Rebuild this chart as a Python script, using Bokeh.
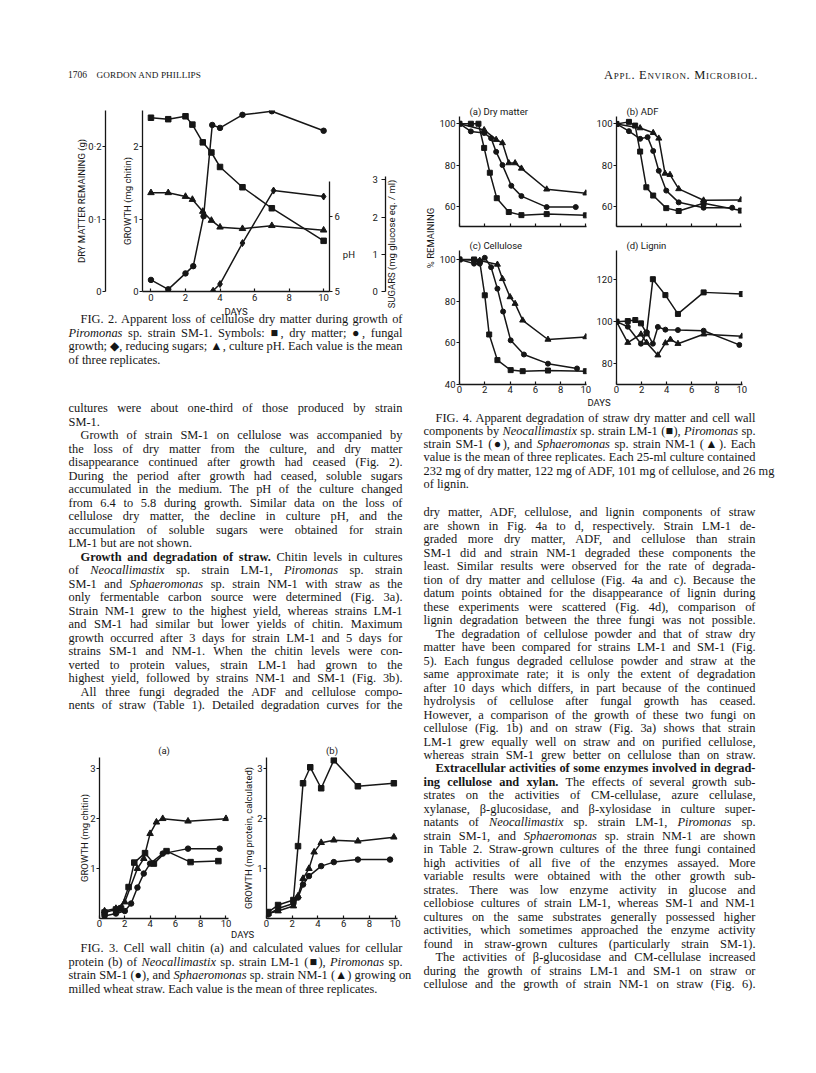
from bokeh.plotting import figure
from bokeh.models import (Range1d, LinearAxis, FixedTicker, Div, Spacer,
                          CustomLabelingPolicy)
from bokeh.layouts import row, column
from bokeh.embed import file_html
from bokeh.resources import INLINE

INK = "#161616"
FONT = "Roboto"
SERIF = "Liberation Serif"
AX_FS = "9.5px"
BODY_FS = 12.4
LH = 13.5
NB = "\u00a0"

# ---------------- data: Fig. 2 ----------------
f2_dm_days = [0, 1, 2, 2.4, 3, 3.5, 4, 5.3, 7, 10]
f2_dry_matter = [0.24, 0.238, 0.242, 0.2305, 0.206, 0.192, 0.172, 0.144, 0.115, 0.07]
f2_gr_days = [0, 1, 2, 2.45, 3.05, 3.55, 4, 5.3, 7, 10]
f2_growth = [0.16, 0.03, 0.25, 0.35, 1.04, 2.3, 2.26, 2.44, 2.49, 2.22]
f2_ph_days = [0, 1, 2, 2.4, 3, 3.5, 4, 5.3, 7, 10]
f2_ph = [6.32, 6.32, 6.27, 6.23, 6.07, 5.95, 5.86, 5.84, 5.88, 5.82]
f2_sug_days = [3.6, 4.0, 5.3, 7.1, 10]
f2_sugars = [0.02, 0.2, 1.3, 2.71, 2.55]
f2_x_ticks = [0, 2, 4, 6, 8, 10]
f2_sug_ticks = [0, 1, 2, 3]

# ---------------- data: Fig. 3 ----------------
f3a_lm_days = [0.4, 1.3, 1.7, 2.3, 2.75, 3.6, 4.3, 5.3, 7.2, 9.4]
f3a_lm = [0.12, 0.18, 0.2, 0.63, 1.12, 1.31, 1.1, 1.35, 1.13, 1.15]
f3a_sm_days = [0.4, 1.3, 2.0, 2.5, 3.0, 3.5, 4.0, 5.0, 7.0, 9.5]
f3a_sm = [0.05, 0.1, 0.15, 0.3, 0.62, 0.9, 1.1, 1.3, 1.4, 1.4]
f3a_nm_days = [0.4, 1.3, 2.0, 3.0, 3.5, 4.0, 4.5, 5.0, 7.0, 10.0]
f3a_nm = [0.15, 0.2, 0.33, 1.0, 1.2, 1.7, 1.93, 2.0, 1.95, 2.0]

f3b_lm_days = [0.13, 0.9, 2.09, 2.45, 2.84, 3.4, 4.25, 5.23, 7.1, 9.9]
f3b_lm = [0.13, 0.27, 0.37, 1.45, 2.71, 3.03, 2.61, 3.17, 2.65, 2.71]
f3b_sm_days = [0.13, 0.9, 2.09, 2.45, 2.84, 3.3, 4.25, 5.23, 7.1, 9.6]
f3b_sm = [0.08, 0.2, 0.3, 0.42, 0.68, 0.85, 1.05, 1.13, 1.18, 1.18]
f3b_nm_days = [0.13, 0.9, 2.09, 2.45, 2.84, 3.3, 3.7, 4.25, 5.23, 7.1, 9.9]
f3b_nm = [0.1, 0.15, 0.25, 0.45, 0.8, 1.0, 1.33, 1.52, 1.57, 1.55, 1.63]
f3_y_ticks = [1, 2, 3]

# ---------------- data: Fig. 4 ----------------
f4a_lm_days = [0, 0.9, 1.5, 1.95, 2.4, 2.95, 3.9, 4.9, 6.9, 10]
f4a_lm = [100, 100, 100, 88.3, 76.3, 64, 57.3, 55.8, 56.3, 55.7]
f4a_sm_days = [0, 0.9, 1.95, 2.5, 2.9, 3.4, 4.1, 4.9, 6.9, 9.2]
f4a_sm = [100, 96.3, 95.5, 93, 86.4, 80, 70, 65, 59.7, 59.7]
f4a_nm_days = [0, 1.95, 2.9, 3.4, 3.9, 4.4, 4.9, 6.9, 10]
f4a_nm = [100, 97, 92.3, 90.7, 81, 81, 78.4, 68.3, 66.4]

f4b_lm_days = [0, 1.0, 1.5, 1.9, 2.4, 2.95, 4.0, 5.0, 7.0, 10]
f4b_lm = [100, 101, 99.2, 86.6, 69.3, 65.3, 59.2, 57.8, 61.6, 58]
f4b_sm_days = [0, 1.0, 1.9, 2.5, 2.95, 3.4, 4.0, 5.0, 7.0, 9.3]
f4b_sm = [100, 96.5, 92.8, 93.6, 86.9, 77.3, 67.7, 62, 59.4, 59.4]
f4b_nm_days = [0, 1.9, 2.95, 3.4, 3.9, 4.3, 5.0, 7.0, 10]
f4b_nm = [100, 98, 95.7, 93, 76, 75.4, 68.5, 63, 63.2]

f4c_lm_days = [0, 1.15, 1.6, 2.0, 2.35, 3.0, 4.05, 5.0, 7.0, 10]
f4c_lm = [100, 100, 99, 82.8, 64, 51.7, 46.9, 46.4, 46.7, 46.4]
f4c_sm_days = [0, 1.15, 1.6, 2.0, 2.5, 3.0, 3.45, 4.05, 5.1, 7.0, 9.3]
f4c_sm = [100, 98, 98, 100.8, 96.3, 86, 75, 61.2, 54.4, 50, 47.7]
f4c_nm_days = [0, 1.6, 3.0, 3.4, 4.0, 4.4, 5.0, 7.0, 10]
f4c_nm = [100, 99.5, 97.6, 90.7, 82, 78.8, 70.8, 61.6, 62.8]

f4d_lm_days = [0, 0.9, 1.5, 1.95, 2.4, 2.9, 3.9, 4.9, 6.95, 10]
f4d_lm = [100, 100.3, 100.8, 99.2, 94.4, 120.3, 112.7, 103.7, 114, 113.2]
f4d_sm_days = [0, 0.9, 1.95, 2.4, 2.9, 3.3, 3.9, 4.9, 6.95, 9.8]
f4d_sm = [100, 97.6, 89.5, 95, 89.5, 97.5, 96.2, 96, 95.7, 88.9]
f4d_nm_days = [0, 0.9, 1.95, 2.4, 3.3, 3.9, 4.3, 4.9, 6.95, 10]
f4d_nm = [100, 90, 94, 90, 84, 89.8, 91.5, 89.5, 94, 93]
f4_x_ticks = [0, 2, 4, 6, 8, 10]

# ---------------- text ----------------
header_left_num = "1706"
header_left = "GORDON AND PHILLIPS"
header_right = "Appl. Environ. Microbiol."

cap2 = [
    ("FIG. 2. Apparent loss of cellulose dry matter during growth of", "ji"),
    ("<i>Piromonas</i> sp. strain SM-1. Symbols: &#9632;, dry matter; &#9679;, fungal", "j"),
    ("growth; &#9670;, reducing sugars; &#9650;, culture pH. Each value is the mean", "j"),
    ("of three replicates.", "l"),
]
body_left = [
    ("cultures were about one-third of those produced by strain", "j"),
    ("SM-1.", "l"),
    ("Growth of strain SM-1 on cellulose was accompanied by", "ji"),
    ("the loss of dry matter from the culture, and dry matter", "j"),
    ("disappearance continued after growth had ceased (Fig. 2).", "j"),
    ("During the period after growth had ceased, soluble sugars", "j"),
    ("accumulated in the medium. The pH of the culture changed", "j"),
    ("from 6.4 to 5.8 during growth. Similar data on the loss of", "j"),
    ("cellulose dry matter, the decline in culture pH, and the", "j"),
    ("accumulation of soluble sugars were obtained for strain", "j"),
    ("LM-1 but are not shown.", "l"),
    ("<b>Growth and degradation of straw.</b> Chitin levels in cultures", "ji"),
    ("of <i>Neocallimastix</i> sp. strain LM-1, <i>Piromonas</i> sp. strain", "j"),
    ("SM-1 and <i>Sphaeromonas</i> sp. strain NM-1 with straw as the", "j"),
    ("only fermentable carbon source were determined (Fig. 3a).", "j"),
    ("Strain NM-1 grew to the highest yield, whereas strains LM-1", "j"),
    ("and SM-1 had similar but lower yields of chitin. Maximum", "j"),
    ("growth occurred after 3 days for strain LM-1 and 5 days for", "j"),
    ("strains SM-1 and NM-1. When the chitin levels were con-", "j"),
    ("verted to protein values, strain LM-1 had grown to the", "j"),
    ("highest yield, followed by strains NM-1 and SM-1 (Fig. 3b).", "j"),
    ("All three fungi degraded the ADF and cellulose compo-", "ji"),
    ("nents of straw (Table 1). Detailed degradation curves for the", "j"),
]
cap3 = [
    ("FIG. 3. Cell wall chitin (a) and calculated values for cellular", "ji"),
    ("protein (b) of <i>Neocallimastix</i> sp. strain LM-1 (&#9632;), <i>Piromonas</i> sp.", "j"),
    ("strain SM-1 (&#9679;), and <i>Sphaeromonas</i> sp. strain NM-1 (&#9650;) growing on", "j"),
    ("milled wheat straw. Each value is the mean of three replicates.", "l"),
]
cap4 = [
    ("FIG. 4. Apparent degradation of straw dry matter and cell wall", "ji"),
    ("components by <i>Neocallimastix</i> sp. strain LM-1 (&#9632;), <i>Piromonas</i> sp.", "j"),
    ("strain SM-1 (&#9679;), and <i>Sphaeromonas</i> sp. strain NM-1 (&#9650;). Each", "j"),
    ("value is the mean of three replicates. Each 25-ml culture contained", "j"),
    ("232 mg of dry matter, 122 mg of ADF, 101 mg of cellulose, and 26 mg", "j"),
    ("of lignin.", "l"),
]
body_right = [
    ("dry matter, ADF, cellulose, and lignin components of straw", "j"),
    ("are shown in Fig. 4a to d, respectively. Strain LM-1 de-", "j"),
    ("graded more dry matter, ADF, and cellulose than strain", "j"),
    ("SM-1 did and strain NM-1 degraded these components the", "j"),
    ("least. Similar results were observed for the rate of degrada-", "j"),
    ("tion of dry matter and cellulose (Fig. 4a and c). Because the", "j"),
    ("datum points obtained for the disappearance of lignin during", "j"),
    ("these experiments were scattered (Fig. 4d), comparison of", "j"),
    ("lignin degradation between the three fungi was not possible.", "j"),
    ("The degradation of cellulose powder and that of straw dry", "ji"),
    ("matter have been compared for strains LM-1 and SM-1 (Fig.", "j"),
    ("5). Each fungus degraded cellulose powder and straw at the", "j"),
    ("same approximate rate; it is only the extent of degradation", "j"),
    ("after 10 days which differs, in part because of the continued", "j"),
    ("hydrolysis of cellulose after fungal growth has ceased.", "j"),
    ("However, a comparison of the growth of these two fungi on", "j"),
    ("cellulose (Fig. 1b) and on straw (Fig. 3a) shows that strain", "j"),
    ("LM-1 grew equally well on straw and on purified cellulose,", "j"),
    ("whereas strain SM-1 grew better on cellulose than on straw.", "j"),
    ("<b>Extracellular activities of some enzymes involved in degrad-</b>", "ji"),
    ("<b>ing cellulose and xylan.</b> The effects of several growth sub-", "j"),
    ("strates on the activities of CM-cellulase, azure cellulase,", "j"),
    ("xylanase, &beta;-glucosidase, and &beta;-xylosidase in culture super-", "j"),
    ("natants of <i>Neocallimastix</i> sp. strain LM-1, <i>Piromonas</i> sp.", "j"),
    ("strain SM-1, and <i>Sphaeromonas</i> sp. strain NM-1 are shown", "j"),
    ("in Table 2. Straw-grown cultures of the three fungi contained", "j"),
    ("high activities of all five of the enzymes assayed. More", "j"),
    ("variable results were obtained with the other growth sub-", "j"),
    ("strates. There was low enzyme activity in glucose and", "j"),
    ("cellobiose cultures of strain LM-1, whereas SM-1 and NM-1", "j"),
    ("cultures on the same substrates generally possessed higher", "j"),
    ("activities, which sometimes approached the enzyme activity", "j"),
    ("found in straw-grown cultures (particularly strain SM-1).", "j"),
    ("The activities of &beta;-glucosidase and CM-cellulase increased", "ji"),
    ("during the growth of strains LM-1 and SM-1 on straw or", "j"),
    ("cellulose and the growth of strain NM-1 on straw (Fig. 6).", "j"),
]

# ---------------- helpers ----------------
def base_fig(w, h, xr, yr, mbl, mbr, mbt, mbb, title=None):
    p = figure(width=w, height=h, x_range=xr, y_range=yr, output_backend="svg",
               toolbar_location=None, x_axis_type=None, y_axis_type=None,
               min_border_left=mbl, min_border_right=mbr, min_border_top=mbt,
               min_border_bottom=mbb, margin=(0, 0, 0, 0), title=title)
    p.outline_line_color = None
    p.background_fill_color = None
    p.border_fill_color = None
    return p


def style_axis(ax, ticks, tick_in=0, tick_out=3, show_labels=True, standoff=2,
               label_standoff=2, overrides=None):
    ax.ticker = FixedTicker(ticks=ticks)
    ax.minor_tick_line_color = None
    ax.major_tick_in = tick_in
    ax.major_tick_out = tick_out
    ax.axis_line_width = 1.3
    ax.axis_line_color = INK
    ax.major_tick_line_width = 1.2
    ax.major_tick_line_color = INK
    ax.major_label_text_font = FONT
    ax.major_label_text_font_size = AX_FS if show_labels else "1px"
    ax.major_label_text_color = INK
    ax.major_label_standoff = standoff if show_labels else 0
    if not show_labels:
        ax.major_label_policy = CustomLabelingPolicy(code="return []")
    ax.axis_label_text_font = FONT
    ax.axis_label_text_font_style = "normal"
    ax.axis_label_text_font_size = AX_FS
    ax.axis_label_text_color = INK
    ax.axis_label_standoff = label_standoff
    if overrides:
        ax.major_label_overrides = overrides
    return ax


def style_title(p, align, offset, standoff):
    p.title.align = align
    p.title.offset = offset
    p.title.text_font = FONT
    p.title.text_font_size = AX_FS
    p.title.text_font_style = "normal"
    p.title.text_color = INK
    p.title.standoff = standoff


def series(p, xs, ys, marker, size, yname="default"):
    p.line(xs, ys, line_width=1.5, line_color=INK, y_range_name=yname)
    p.scatter(xs, ys, marker=marker, size=size, fill_color=INK, line_color=INK,
              y_range_name=yname)


def lines_html(width, height, page_top, page_left, items, extra="", fs=BODY_FS):
    out = [f'<div style="position:relative;width:{width}px;height:{height}px;'
           f'font-family:\'{SERIF}\',serif;font-size:{fs}px;color:{INK};">']
    for center, left, w, content, mode in items:
        top = center - 8.0 - page_top
        lft = left - page_left
        if mode == "j":
            al = "text-align:justify;text-align-last:justify;"
        else:
            al = "text-align:left;"
        out.append(f'<div style="position:absolute;top:{top:.1f}px;left:{lft:.1f}px;'
                   f'width:{w:.1f}px;line-height:{LH}px;height:{LH}px;white-space:nowrap;{al}">'
                   f'{content}</div>')
    out.append(extra)
    out.append("</div>")
    return Div(text="".join(out), width=width, height=height, margin=(0, 0, 0, 0))


def para_items(lines, first_center, step, left, width, indent=12):
    items = []
    for i, (txt, mode) in enumerate(lines):
        c = first_center + i * step
        if mode.endswith("i"):
            items.append((c, left + indent, width - indent, txt, mode[0]))
        else:
            items.append((c, left, width, txt, mode))
    return items


def days_html(cx, cy, page_top, page_left):
    return (f'<div style="position:absolute;left:{cx - page_left - 30:.1f}px;top:{cy - 6 - page_top:.1f}px;'
            f'width:60px;text-align:center;font-family:\'{FONT}\',sans-serif;font-size:{AX_FS};'
            f'line-height:12px;color:{INK};">DAYS</div>')


def rotated_label_div(text, width, height, cx, cy):
    # vertical label reading bottom-to-top, centred at (cx, cy) inside the div
    return Div(text=(
        f'<div style="position:relative;width:{width}px;height:{height}px;">'
        f'<div style="position:absolute;left:{cx:.1f}px;top:{cy:.1f}px;'
        f'transform:translate(-50%,-50%) rotate(-90deg);white-space:nowrap;'
        f'font-family:\'{FONT}\',sans-serif;font-size:{AX_FS};color:{INK};">{text}</div></div>'),
        width=width, height=height, margin=(0, 0, 0, 0))


# ---------------- header (page y 0..84) ----------------
header = Div(text=(
    '<div style="position:relative;width:800px;height:84px;font-family:\'Liberation Serif\',serif;'
    f'color:{INK};">'
    f'<div style="position:absolute;left:68px;top:69px;font-size:9.5px;">{header_left_num}</div>'
    f'<div style="position:absolute;left:96.5px;top:69px;font-size:9.2px;letter-spacing:0.1px;">{header_left}</div>'
    f'<div style="position:absolute;right:42px;top:67px;font-size:12.5px;font-variant:small-caps;letter-spacing:0.7px;">{header_right}</div>'
    '</div>'), width=800, height=84, margin=(0, 0, 0, 0))

# ---------------- Fig. 2 (page x 60..389, y 84..319) ----------------
p2 = base_fig(329, 235, Range1d(-0.49, 10.34), Range1d(0, 2.5), 82, 54, 26, 26)
p2.extra_y_ranges = {"dm": Range1d(0, 0.25), "ph": Range1d(5, 7.42), "sug": Range1d(0, 4.86)}

ax_gr = LinearAxis(axis_label=NB + "\nGROWTH (mg chitin)")
style_axis(ax_gr, [0, 1, 2], tick_out=3, standoff=1, label_standoff=-3)
ax_gr.axis_label_text_line_height = 1.26
p2.add_layout(ax_gr, "left")

ax_dm = LinearAxis(y_range_name="dm", axis_label="DRY MATTER REMAINING (g)")
style_axis(ax_dm, [0, 0.1, 0.2], tick_out=3, standoff=1, label_standoff=-2,
           overrides={0: "0", 0.1: "0\u00b71", 0.2: "0\u00b72"})
p2.add_layout(ax_dm, "left")

ax_x2 = LinearAxis(axis_label="DAYS")
style_axis(ax_x2, f2_x_ticks, tick_in=3, tick_out=0, standoff=2, label_standoff=2)
p2.add_layout(ax_x2, "below")

# pH axis (inner right); the label is pushed down with blank lines so it sits below the "6" tick
ax_ph = LinearAxis(y_range_name="ph", axis_label=(NB + "\n") * 9 + "pH" + NB * 6)
style_axis(ax_ph, [5, 6], tick_out=3, standoff=2, label_standoff=0)
ax_ph.bounds = (5, 6.47)
ax_ph.axis_label_orientation = "horizontal"
ax_ph.axis_label_text_line_height = 1.09
p2.add_layout(ax_ph, "right")

# tick labels of the sugars scale, printed just left of the sugars axis line
ax_sug_lab = LinearAxis(y_range_name="sug")
style_axis(ax_sug_lab, f2_sug_ticks, tick_out=0, standoff=0,
           overrides={v: str(v) + NB * 2 for v in f2_sug_ticks})
ax_sug_lab.axis_line_color = None
ax_sug_lab.major_tick_line_color = None
ax_sug_lab.bounds = (0, 3.1)
p2.add_layout(ax_sug_lab, "right")

ax_sug = LinearAxis(y_range_name="sug")
style_axis(ax_sug, f2_sug_ticks, tick_in=4, tick_out=0, show_labels=False, label_standoff=0)
ax_sug.bounds = (0, 3.1)
p2.add_layout(ax_sug, "right")

series(p2, f2_dm_days, f2_dry_matter, "square", 5.5, "dm")
series(p2, f2_gr_days, f2_growth, "circle", 5.5)
series(p2, f2_ph_days, f2_ph, "triangle", 6.5, "ph")
series(p2, f2_sug_days, f2_sugars, "diamond", 7, "sug")

sug_div = rotated_label_div("SUGARS (mg glucose eq. / ml)", 23, 235, 392 - 389, 244 - 84)

# ---------------- left text (page y 319..716) ----------------
LEFT_X, LEFT_W = 68.5, 334
items = para_items(cap2, 321, 13.5, LEFT_X, LEFT_W) + para_items(body_left, 410, 13.5, LEFT_X, LEFT_W)
left_text = lines_html(352, 397, 319, 60, items)

# ---------------- Fig. 3 (page y 716..930) ----------------
def fig3(title, ylab, w, mbl, mbr, xend, lab_standoff, series_list):
    p = base_fig(w, 214, Range1d(0, xend), Range1d(0, 3.226), mbl, mbr, 41, 12, title=title)
    ax_y = LinearAxis(axis_label=ylab)
    style_axis(ax_y, f3_y_ticks, tick_out=3, standoff=1, label_standoff=lab_standoff)
    p.add_layout(ax_y, "left")
    ax_x = LinearAxis()
    style_axis(ax_x, f4_x_ticks, tick_in=3, tick_out=0, standoff=1)
    p.add_layout(ax_x, "below")
    style_title(p, "center", 0, 3)
    for xs, ys, m, s in series_list:
        series(p, xs, ys, m, s)
    return p


p3a = fig3("(a)", "GROWTH (mg chitin)", 180, 39, 12, 10.2, -3,
           [(f3a_lm_days, f3a_lm, "square", 5.5), (f3a_sm_days, f3a_sm, "circle", 5.5),
            (f3a_nm_days, f3a_nm, "triangle", 6.5)])
p3b = fig3("(b)", "GROWTH (mg protein, calculated)", 172, 26, 15, 10.18, 0,
           [(f3b_lm_days, f3b_lm, "square", 5.5), (f3b_sm_days, f3b_sm, "circle", 5.5),
            (f3b_nm_days, f3b_nm, "triangle", 6.5)])

items3 = para_items(cap3, 950, 13.5, LEFT_X, LEFT_W)
left_bottom = lines_html(352, 70, 930, 60, items3, extra=days_html(242.7, 935, 930, 60))

left_col = column(row(p2, sug_div, spacing=0), left_text, row(p3a, p3b, spacing=0),
                  left_bottom, spacing=0)

# ---------------- Fig. 4 (page x 420..762, y 97..397) ----------------
def fig4(title, w, h, mbl, mbr, mbt, mbb, xr, yr, yticks, show_x, series_list):
    p = base_fig(w, h, xr, yr, mbl, mbr, mbt, mbb, title=title)
    ax_y = LinearAxis()
    style_axis(ax_y, yticks, tick_out=3, standoff=1)
    p.add_layout(ax_y, "left")
    ax_x = LinearAxis()
    style_axis(ax_x, f4_x_ticks, tick_in=3, tick_out=0, show_labels=show_x, standoff=1)
    p.add_layout(ax_x, "below")
    style_title(p, "left", 10, 0)
    for xs, ys, m, s in series_list:
        series(p, xs, ys, m, s)
    return p


p4a = fig4("(a) Dry matter", 157, 135, 21, 7, 19, 5, Range1d(0, 10.05), Range1d(50.3, 103.5),
           [60, 80, 100], False,
           [(f4a_lm_days, f4a_lm, "square", 5), (f4a_sm_days, f4a_sm, "circle", 5),
            (f4a_nm_days, f4a_nm, "triangle", 6)])
p4b = fig4("(b) ADF", 169, 135, 20, 21, 19, 6, Range1d(0, 10.05), Range1d(50.3, 103.6),
           [60, 80, 100], False,
           [(f4b_lm_days, f4b_lm, "square", 5), (f4b_sm_days, f4b_sm, "circle", 5),
            (f4b_nm_days, f4b_nm, "triangle", 6)])
p4c = fig4("(c) Cellulose", 157, 165, 22, 7, 18, 13, Range1d(0, 10.05), Range1d(40, 104.3),
           [40, 60, 80, 100], True,
           [(f4c_lm_days, f4c_lm, "square", 5), (f4c_sm_days, f4c_sm, "circle", 5),
            (f4c_nm_days, f4c_nm, "triangle", 6)])
p4d = fig4("(d) Lignin", 169, 165, 21, 20, 18, 13, Range1d(0, 10.05), Range1d(70, 134),
           [80, 100, 120], True,
           [(f4d_lm_days, f4d_lm, "square", 5), (f4d_sm_days, f4d_sm, "circle", 5),
            (f4d_nm_days, f4d_nm, "triangle", 6)])

rem_div = rotated_label_div("% REMAINING", 16, 300, 431 - 420, 238 - 97)

grid4 = column(row(p4a, p4b, spacing=0), row(p4c, p4d, spacing=0), spacing=0)
fig4_block = row(rem_div, grid4, spacing=0)

RIGHT_X, RIGHT_W = 423.5, 332
items_r = para_items(cap4, 419.5, 13.25, RIGHT_X, RIGHT_W) + para_items(body_right, 514.3, 13.48, RIGHT_X, RIGHT_W)
right_text = lines_html(342, 603, 397, 420, items_r, extra=days_html(599, 403, 397, 420))

right_col = column(Spacer(width=342, height=13), fig4_block, right_text, spacing=0)

body = row(Spacer(width=60, height=10), left_col, Spacer(width=8, height=10), right_col, spacing=0)
page = column(header, body, spacing=0)

open("out.html", "w").write(file_html(page, INLINE))
